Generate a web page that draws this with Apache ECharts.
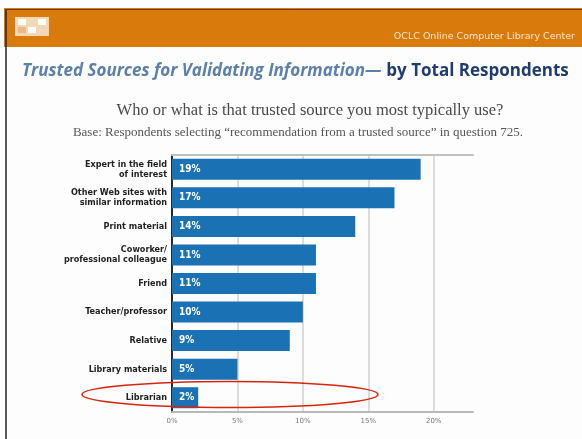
<!DOCTYPE html>
<html>
<head>
<meta charset="utf-8">
<script src="https://cdn.jsdelivr.net/npm/echarts@6/dist/echarts.min.js"></script>
<style>
  html, body { margin: 0; padding: 0; background: #fdfdfd; }
  #chart { width: 582px; height: 439px; }
</style>
</head>
<body>
<div id="chart"></div>
<script>
// Trusted sources, share of respondents (%)
const categories = [
  'Expert in the field\nof interest',
  'Other Web sites with\nsimilar information',
  'Print material',
  'Coworker/\nprofessional colleague',
  'Friend',
  'Teacher/professor',
  'Relative',
  'Library materials',
  'Librarian'
];
const values = [19, 17, 14, 11, 11, 10, 9, 5, 2];
const tickLabels = ['0%', '5%', '10%', '15%', '20%'];

const chart = echarts.init(document.getElementById('chart'), null, { renderer: 'canvas' });

chart.setOption({
  backgroundColor: '#fdfdfd',
  animation: false,
  title: [
    {
      text: '{a|Trusted Sources for Validating Information—} {b|by Total Respondents}',
      left: 17,
      top: 57,
      textStyle: {
        rich: {
          a: { fontFamily: 'Open Sans', fontStyle: 'italic', fontSize: 17, color: '#5b80aa' },
          b: { fontFamily: 'Open Sans', fontWeight: 'bold', fontSize: 17, color: '#1f3d70' }
        }
      }
    },
    {
      text: 'Who or what is that trusted source you most typically use?',
      left: 305,
      textAlign: 'center',
      top: 97,
      textStyle: { fontFamily: 'Liberation Serif', fontWeight: 'normal', fontSize: 16.5, color: '#4a4a4a' }
    },
    {
      text: 'Base: Respondents selecting \u201crecommendation from a trusted source\u201d in question 725.',
      left: 293,
      textAlign: 'center',
      top: 121,
      textStyle: { fontFamily: 'Liberation Serif', fontWeight: 'normal', fontSize: 13, color: '#555' }
    }
  ],
  grid: { left: 172, right: 109, top: 155, bottom: 27 },
  xAxis: [
    {
      type: 'value',
      min: 0,
      max: 23,
      interval: 5,
      axisLine: { show: true, lineStyle: { color: '#b8b8b8', width: 2 } },
      axisTick: { show: false },
      splitLine: { show: true, showMinLine: false, showMaxLine: false, lineStyle: { color: '#d0d0d0', width: 1.5 } },
      axisLabel: {
        showMaxLabel: false,
        margin: 6,
        fontFamily: 'DejaVu Sans',
        fontSize: 7,
        color: '#777',
        formatter: v => tickLabels[v / 5] || ''
      }
    },
    {
      type: 'value',
      position: 'top',
      min: 0,
      max: 23,
      interval: 5,
      axisLine: { show: true, lineStyle: { color: '#c0c0c0', width: 2 } },
      axisTick: { show: false },
      axisLabel: { show: false },
      splitLine: { show: false }
    }
  ],
  yAxis: {
    type: 'category',
    inverse: true,
    data: categories,
    axisLine: { show: true, lineStyle: { color: '#1c2a40', width: 2 } },
    axisTick: { show: false },
    axisLabel: {
      margin: 5,
      fontFamily: 'DejaVu Sans Condensed',
      fontWeight: 'bold',
      fontSize: 9,
      lineHeight: 10,
      color: '#222',
      align: 'right'
    }
  },
  series: [
    {
      type: 'bar',
      data: values,
      barWidth: 21,
      itemStyle: { color: '#1a71b3' },
      label: {
        show: true,
        position: 'insideLeft',
        offset: [2, 0],
        formatter: p => p.value + '%',
        fontFamily: 'DejaVu Sans Condensed',
        fontWeight: 'bold',
        fontSize: 10,
        color: '#ffffff'
      }
    }
  ],
  graphic: [
    // orange header band
    { type: 'rect', shape: { x: 4, y: 8, width: 578, height: 39 }, style: { fill: '#d97a0c' }, z: 10 },
    { type: 'line', shape: { x1: 5, y1: 9.5, x2: 582, y2: 9.5 }, style: { stroke: '#6b3a08', lineWidth: 1 }, z: 11 },
    // left frame edge
    { type: 'line', shape: { x1: 6, y1: 10, x2: 6, y2: 439 }, style: { stroke: '#222', lineWidth: 1.5 }, z: 11 },
    // logo mark
    { type: 'rect', shape: { x: 15, y: 17, width: 34, height: 19 }, style: { fill: '#f3d8b8' }, z: 11 },
    { type: 'rect', shape: { x: 18, y: 19, width: 8, height: 6 }, style: { fill: '#ffffff' }, z: 12 },
    { type: 'rect', shape: { x: 28, y: 27, width: 8, height: 6 }, style: { fill: '#ffffff' }, z: 12 },
    { type: 'rect', shape: { x: 38, y: 19, width: 8, height: 6 }, style: { fill: '#ffffff' }, z: 12 },
    { type: 'rect', shape: { x: 18, y: 27, width: 8, height: 6 }, style: { fill: '#e9b98a' }, z: 12 },
    {
      type: 'text', right: 7, top: 32,
      style: { text: 'OCLC Online Computer Library Center', fontFamily: 'DejaVu Sans', fontSize: 9.5, fill: '#fbe6cf' },
      z: 12
    },
    // highlight ring around the librarian row
    {
      type: 'ellipse',
      shape: { cx: 230, cy: 394.5, rx: 148, ry: 13 },
      style: { fill: 'none', stroke: '#d7260f', lineWidth: 1.6 },
      z: 20
    }
  ]
});
</script>
</body>
</html>
